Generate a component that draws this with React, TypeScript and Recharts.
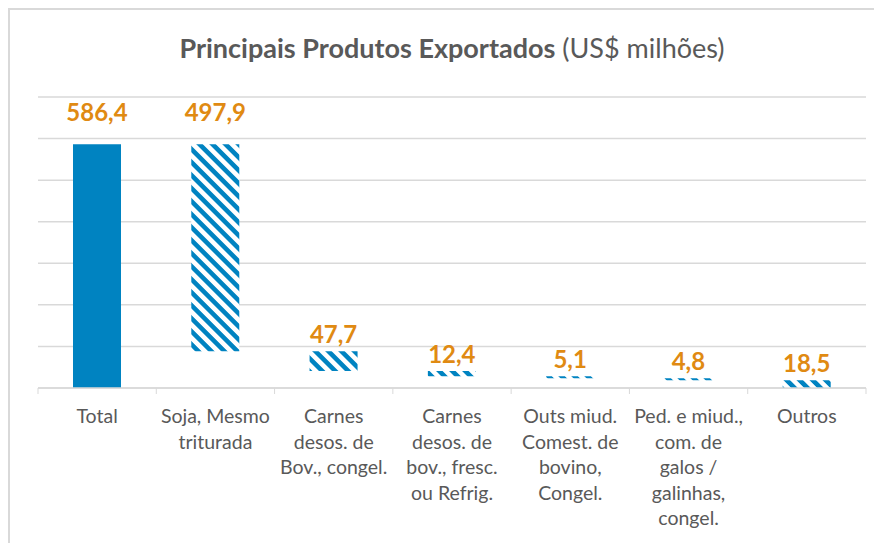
import { BarChart, Bar, XAxis, YAxis, CartesianGrid, Cell, LabelList } from 'recharts';

const categories = [
  'Total',
  'Soja, Mesmo\ntriturada',
  'Carnes\ndesos. de\nBov., congel.',
  'Carnes\ndesos. de\nbov., fresc.\nou Refrig.',
  'Outs miud.\nComest. de\nbovino,\nCongel.',
  'Ped. e miud.,\ncom. de\ngalos /\ngalinhas,\ncongel.',
  'Outros',
];
const values = [586.4, 497.9, 47.7, 12.4, 5.1, 4.8, 18.5];
const yTicks = [0, 100, 200, 300, 400, 500, 600, 700];

// waterfall: each product hangs from what is left of the total
const data = categories.map((name, i) => {
  let base = 0;
  if (i > 0) {
    base = values[0];
    for (let k = 1; k <= i; k++) base -= values[k];
  }
  return { name, value: values[i], base: Math.max(0, base) };
});

const BLUE = '#0083C1';
const ORANGE = '#E08A12';
const GRAY = '#595959';
const GRID = '#D9D9D9';

const W = 874;
const H = 535;
const M = { top: 89, right: 16, left: 30, bottom: 5 };
const HALF_BAND = (W - M.left - M.right) / categories.length / 2;

function CategoryTick(props: any) {
  const { x, y, payload, index } = props;
  const lines = String(payload.value).split('\n');
  return (
    <g>
      <line x1={x - HALF_BAND} x2={x - HALF_BAND} y1={y} y2={y + 6} stroke={GRID} />
      {index === categories.length - 1 && (
        <line x1={x + HALF_BAND} x2={x + HALF_BAND} y1={y} y2={y + 6} stroke={GRID} />
      )}
      <text x={x} y={y + 35} textAnchor="middle" fill={GRAY} fontSize={19.5} fontFamily="Lato">
        {lines.map((l, i) => (
          <tspan key={i} x={x} dy={i === 0 ? 0 : 25.5}>
            {l}
          </tspan>
        ))}
      </text>
    </g>
  );
}

function ValueLabel(props: any) {
  const { x, y, width, value, index } = props;
  const off = index < 2 ? 33 : 18;
  return (
    <text
      x={x + width / 2}
      y={y - off}
      textAnchor="middle"
      dominantBaseline="central"
      fill={ORANGE}
      fontSize={24}
      fontWeight="bold"
      fontFamily="Lato"
    >
      {Number(value).toFixed(1).replace('.', ',')}
    </text>
  );
}

export default function App() {
  return (
    <div
      style={{
        position: 'relative',
        width: W,
        height: H,
        borderTop: `2px solid ${GRID}`,
        borderLeft: `2px solid ${GRID}`,
        boxSizing: 'border-box',
        background: '#fff',
      }}
    >
      <div
        style={{
          position: 'absolute',
          top: 21,
          left: 0,
          width: W,
          textAlign: 'center',
          paddingLeft: 10,
          boxSizing: 'border-box',
          fontFamily: 'Lato',
          fontSize: 27,
          color: GRAY,
        }}
      >
        <b>Principais Produtos Exportados</b> (US$ milhões)
      </div>
      <div style={{ position: 'absolute', top: -2, left: -2 }}>
        <BarChart width={W} height={H} data={data} margin={M} barSize={48}>
          <defs>
            <pattern
              id="hatch"
              patternUnits="userSpaceOnUse"
              width="9.2"
              height="9.2"
              patternTransform="rotate(-45)"
            >
              <rect width="9.2" height="9.2" fill="#fff" />
              <rect x="0" y="0" width="4.6" height="9.2" fill={BLUE} />
            </pattern>
          </defs>
          <CartesianGrid vertical={false} stroke={GRID} strokeWidth={1.5} />
          <XAxis
            dataKey="name"
            interval={0}
            height={150}
            tickLine={false}
            tickSize={0}
            tickMargin={0}
            axisLine={{ stroke: GRID, strokeWidth: 1.5 }}
            tick={<CategoryTick />}
          />
          <YAxis hide domain={[0, 700]} ticks={yTicks} />
          <Bar dataKey="base" stackId="w" fill="transparent" isAnimationActive={false} />
          <Bar dataKey="value" stackId="w" isAnimationActive={false}>
            {data.map((d, i) => (
              <Cell key={d.name} fill={i === 0 ? BLUE : 'url(#hatch)'} />
            ))}
            <LabelList dataKey="value" content={<ValueLabel />} />
          </Bar>
        </BarChart>
      </div>
    </div>
  );
}
